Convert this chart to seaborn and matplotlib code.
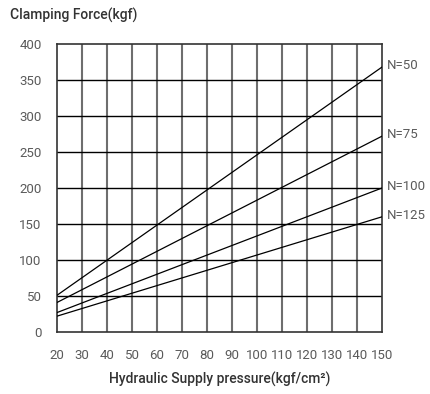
import pandas as pd
import matplotlib.pyplot as plt
import seaborn as sns

# Values: clamping force at 20 and 150 kgf/cm2
pressure = [20, 150]
series = ['N=50', 'N=75', 'N=100', 'N=125']
force_n50 = [51, 368]
force_n75 = [41, 272]
force_n100 = [27, 200]
force_n125 = [22, 160]
x_ticks = list(range(20, 151, 10))
y_ticks = list(range(0, 401, 50))

df = pd.DataFrame({
    'pressure': pressure * 4,
    'force': force_n50 + force_n75 + force_n100 + force_n125,
    'N': [s for s in series for _ in pressure],
})

sns.set_style('white')
plt.rcParams['font.family'] = ['Roboto', 'DejaVu Sans']

fig = plt.figure(figsize=(4.3, 3.94), dpi=100)
ax = fig.add_axes([0.1326, 0.1574, 0.7558, 0.7309])

# grid: gray verticals, black horizontals
for x in x_ticks[1:-1]:
    ax.axvline(x, color='#6e6e6e', lw=1.5, zorder=1)
for y in y_ticks[1:-1]:
    ax.axhline(y, color='black', lw=1.0, zorder=1)

sns.lineplot(data=df, x='pressure', y='force', hue='N',
             palette=['black'] * 4, lw=0.9, legend=False, ax=ax, zorder=3)

ax.set_xlim(20, 150)
ax.set_ylim(0, 400)
ax.set_xticks(x_ticks)
ax.set_yticks(y_ticks)
ax.tick_params(length=0, labelsize=9.5, labelcolor='#5a5a5a')
ax.tick_params(axis='x', pad=12)
ax.tick_params(axis='y', pad=11)
for s in ax.spines.values():
    s.set_color('#333333')
    s.set_linewidth(1.2)

# right-hand labels
for name, vals in zip(series, [force_n50, force_n75, force_n100, force_n125]):
    ax.text(152, vals[-1] + 2, name, fontsize=9.5, color='#5a5a5a',
            va='center', ha='left')

ax.set_xlabel('Hydraulic Supply pressure(kgf/cm²)', fontsize=10,
              color='#333333', fontweight='medium', labelpad=7)
ax.set_ylabel('')
fig.text(0.023, 0.962, 'Clamping Force(kgf)', fontsize=10, color='#333333',
         fontweight='medium', va='center', ha='left')

fig.savefig('out.png', dpi=100)
